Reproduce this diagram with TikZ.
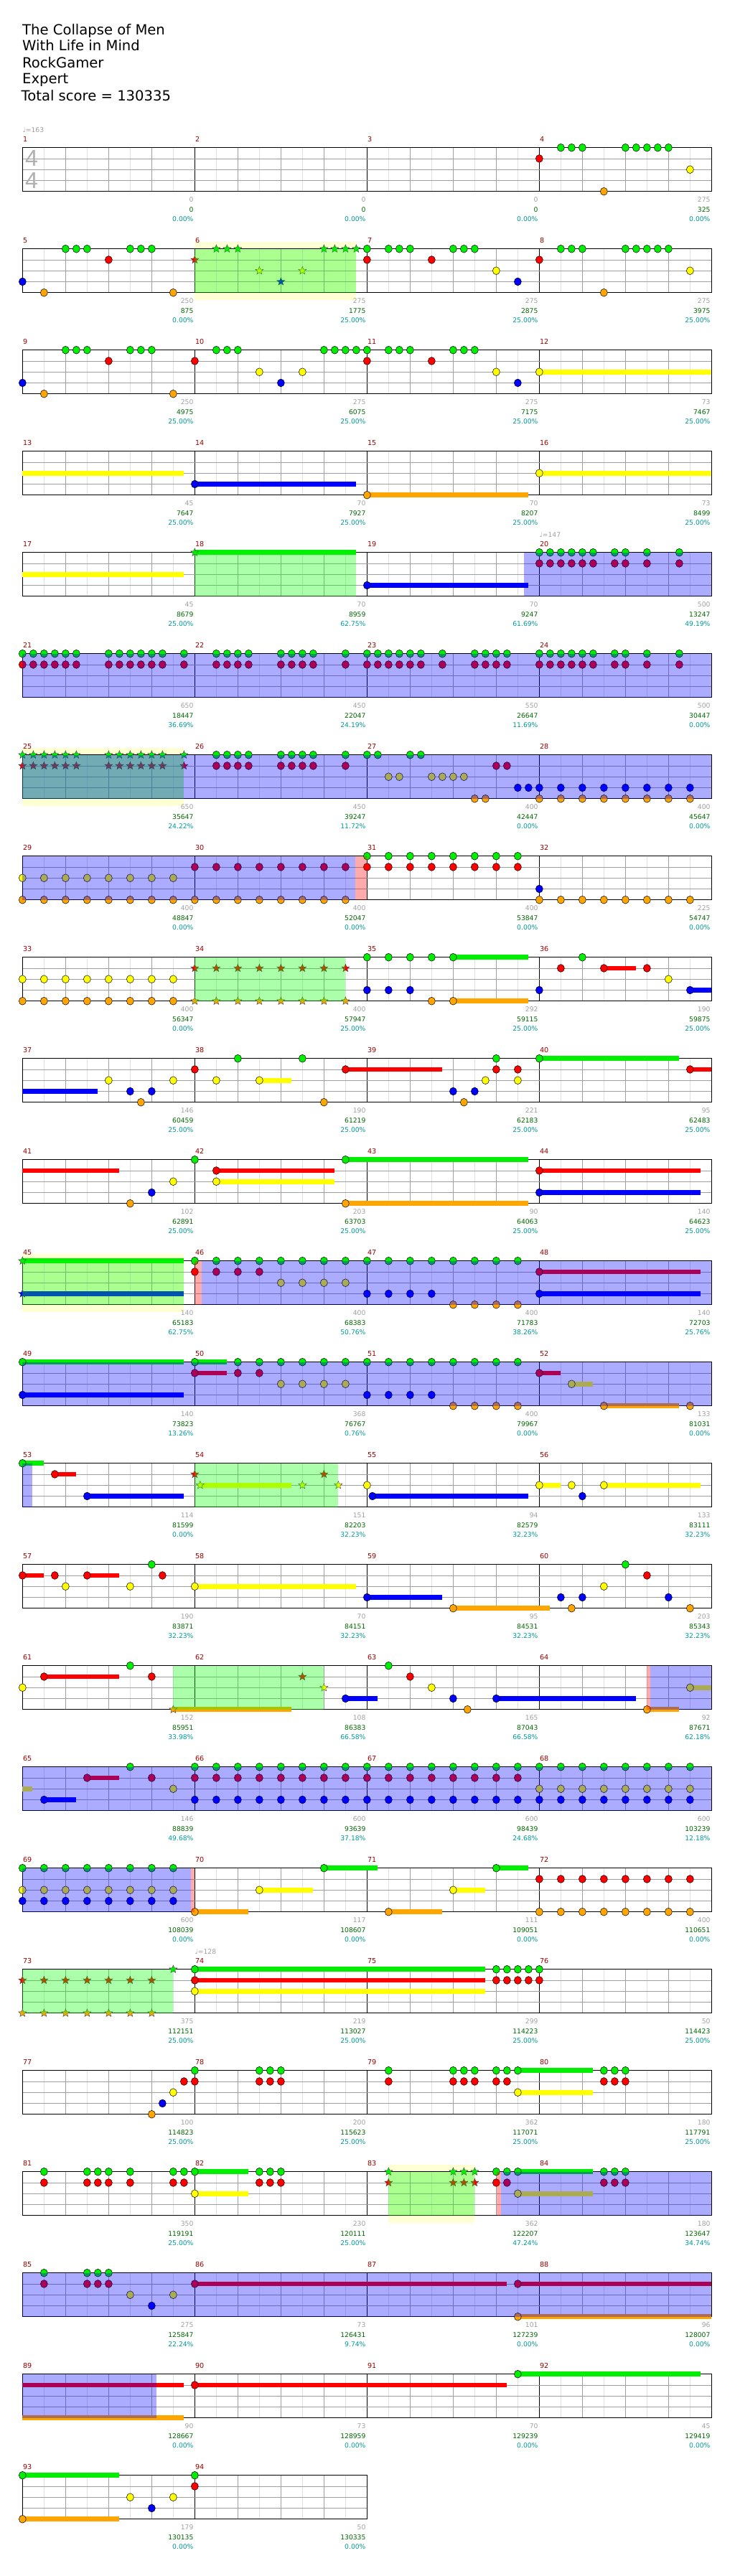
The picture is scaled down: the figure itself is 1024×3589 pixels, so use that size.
\documentclass[tikz,border=0pt]{standalone}
\usepackage{fontspec}
\setmainfont{DejaVu Sans}
\newfontfamily\libfont{Liberation Sans}
\definecolor{cg}{HTML}{00EE00}
\definecolor{cr}{HTML}{FF0000}
\definecolor{cy}{HTML}{FFFF00}
\definecolor{cb}{HTML}{0000FF}
\definecolor{co}{HTML}{FFA500}
\definecolor{phrase}{HTML}{FFFFD4}
\definecolor{mred}{HTML}{990000}
\definecolor{ngray}{HTML}{A0A0A0}
\definecolor{sgreen}{HTML}{006600}
\definecolor{pteal}{HTML}{009999}
\definecolor{lgray}{HTML}{E0E0E0}
\definecolor{mgray}{HTML}{A0A0A0}
\definecolor{tsgray}{HTML}{B0B0B0}
\def\lyg{0}\def\lyr{15.25}\def\lyy{30.5}\def\lyb{45.75}\def\lyo{61}
\newcommand\setm[1]{%
  \pgfmathtruncatemacro\mrow{(#1-1)/4}%
  \pgfmathtruncatemacro\mcol{#1-1-4*\mrow}%
  \pgfmathsetmacro\mx{31.35+240*\mcol}%
  \pgfmathsetmacro\my{205.7+141*\mrow}}
\newcommand\Nt[3]{\setm{#1}\foreach \qa in {#2}{\foreach \qp in {#3}{%
  \pgfmathsetmacro\xx{\mx+\qp*15}\pgfmathsetmacro\yy{\my+\csname ly\qa\endcsname}%
  \filldraw[notest,fill=c\qa] (\xx,\yy) circle[x radius=5pt,y radius=5.4pt];}}}
\newcommand\Sn[3]{\setm{#1}\foreach \qa in {#2}{\foreach \qp in {#3}{%
  \pgfmathsetmacro\xx{\mx+\qp*15}\pgfmathsetmacro\yy{\my+\csname ly\qa\endcsname}%
  \filldraw[starst,fill=c\qa,shift={(\xx,\yy)}] (90:5.8pt)--(126:2.5pt)--(162:5.8pt)--(198:2.5pt)--(234:5.8pt)--(270:2.5pt)--(306:5.8pt)--(342:2.5pt)--(18:5.8pt)--(54:2.5pt)--cycle;}}}
\newcommand\Su[4]{\setm{#1}\pgfmathsetmacro\yy{\my+\csname ly#2\endcsname}%
  \fill[c#2] ({\mx+#3*15},{\yy-3.4}) rectangle ({\mx+#4*15},{\yy+3.4});}
\newcommand\Reg[4]{\setm{#1}\fill[#4] ({\mx+#2*15},\my) rectangle ({\mx+#3*15},{\my+61});}
\newcommand\Ph[3]{\setm{#1}\fill[phrase] ({\mx+#2*15},{\my-10}) rectangle ({\mx+#3*15},{\my+71});}
\tikzset{
  notest/.style={draw=black,line width=0.5pt},
  starst/.style={draw=black!75,line width=0.4pt},
  gov/.style={fill=green,fill opacity=0.33},
  bov/.style={fill=blue,fill opacity=0.33},
  rov/.style={fill=red,fill opacity=0.33},
  eighthl/.style={draw=lgray,line width=0.8pt},
  quarterl/.style={draw=mgray,line width=0.8pt},
  barl/.style={draw=black,line width=0.8pt},
  lanel/.style={draw=mgray,line width=0.9pt},
  outl/.style={draw=black,line width=1.2pt},
  mnum/.style={font=\fontsize{9.6}{11}\selectfont,text=mred,inner sep=0pt,anchor=base west},
  gnum/.style={font=\fontsize{9.2}{11}\selectfont,text=ngray,inner sep=0pt,anchor=base east},
  snum/.style={font=\fontsize{9.2}{11}\selectfont,text=sgreen,inner sep=0pt,anchor=base east},
  pnum/.style={font=\fontsize{9.2}{11}\selectfont,text=pteal,inner sep=0pt,anchor=base east},
  ttl/.style={font=\fontsize{19.6}{23}\selectfont,inner sep=0pt,anchor=base west},
  tempo/.style={font=\fontsize{9.2}{11}\selectfont,text=ngray,inner sep=0pt,anchor=base west},
  tsig/.style={font=\libfont\fontsize{32}{36}\selectfont,text=tsgray,inner sep=0pt}
}
\begin{document}
\begin{tikzpicture}[x=1pt,y=-1pt]
\fill[white] (0,0) rectangle (1024,3589);
\useasboundingbox (0,0) rectangle (1024,3589);
% title
\node[ttl] (t1) at (31,48.7) {The Collapse of Men};
\node[ttl] (t2) at (31,71) {With Life in Mind};
\node[ttl] (t3) at (31,94.3) {RockGamer};
\node[ttl] (t4) at (31,117) {Expert};
\node[ttl] (t5) at (29.5,140.3) {Total score = 130335};
% tempo marks
\node[tempo] (tp1) at (31.35,184.2) {♩=163};
\node[tempo] (tp2) at (751.35,748.2) {♩=147};
\node[tempo] (tp3) at (271.35,2722.2) {♩=128};
% phrase regions
\Ph{6}{0}{15} \Ph{25}{0}{15} \Ph{45}{0}{15} \Ph{83}{2}{10}
% grid
\foreach \r in {0,...,23}{
  \pgfmathsetmacro\yt{205.7+141*\r}
  \ifnum\r=23 \def\nm{2}\else\def\nm{4}\fi
  \pgfmathsetmacro\xe{31.35+240*\nm}
  \pgfmathtruncatemacro\ne{8*\nm-1}
  \foreach \i in {1,3,...,\ne} \draw[eighthl] ({31.35+30*\i},\yt) -- ++(0,61);
  \pgfmathtruncatemacro\nq{4*\nm-1}
  \foreach \i in {1,...,\nq} \draw[quarterl] ({31.35+60*\i},\yt) -- ++(0,61);
  \pgfmathtruncatemacro\nb{\nm-1}
  \foreach \i in {1,...,\nb} \draw[barl] ({31.35+240*\i},\yt) -- ++(0,61);
  \foreach \j in {1,2,3} \draw[lanel] (31.35,{\yt+15.25*\j}) -- (\xe,{\yt+15.25*\j});
  \draw[outl] (31.35,\yt) rectangle (\xe,{\yt+61});
}
\node[tsig] (ts1) at (44,220.5) {4};
\node[tsig] (ts2) at (44,251.5) {4};
% sustains
\Su{12}{y}{0}{16} \Su{13}{y}{0}{15} \Su{14}{b}{0}{15} \Su{15}{o}{0}{15} \Su{16}{y}{0}{16}
\Su{17}{y}{0}{15} \Su{18}{g}{0}{15} \Su{19}{b}{0}{15}
\Su{35}{g}{8}{15} \Su{35}{o}{8}{15} \Su{36}{r}{6}{9} \Su{36}{b}{14}{16}
\Su{37}{b}{0}{7} \Su{38}{y}{6}{9} \Su{38}{r}{14}{23} \Su{40}{g}{0}{13} \Su{40}{r}{14}{16}
\Su{41}{r}{0}{9} \Su{42}{r}{2}{13} \Su{42}{y}{2}{13} \Su{42}{g}{14}{31} \Su{42}{o}{14}{31}
\Su{44}{r}{0}{15} \Su{44}{b}{0}{15} \Su{45}{g}{0}{15} \Su{45}{b}{0}{15}
\Su{48}{r}{0}{15} \Su{48}{b}{0}{15} \Su{49}{g}{0}{15} \Su{49}{b}{0}{15}
\Su{50}{g}{0}{3} \Su{50}{r}{0}{3} \Su{52}{r}{0}{2} \Su{52}{y}{3}{5} \Su{52}{o}{6}{13}
\Su{53}{g}{0}{2} \Su{53}{r}{3}{5} \Su{53}{b}{6}{15} \Su{54}{y}{0.5}{9}
\Su{55}{b}{0.5}{15} \Su{56}{y}{0}{2} \Su{56}{y}{6}{15}
\Su{57}{r}{0}{2} \Su{57}{r}{6}{9} \Su{58}{y}{0}{15} \Su{59}{b}{0}{7} \Su{59}{o}{8}{17}
\Su{61}{r}{2}{9} \Su{61}{o}{14}{25} \Su{62}{b}{14}{17} \Su{63}{b}{12}{25}
\Su{64}{o}{10}{13} \Su{64}{y}{14}{16} \Su{65}{y}{0}{0.9} \Su{65}{b}{2}{5} \Su{65}{r}{6}{9}
\Su{70}{o}{0}{5} \Su{70}{y}{6}{11} \Su{70}{g}{12}{17}
\Su{71}{o}{2}{7} \Su{71}{y}{8}{11} \Su{71}{g}{12}{15}
\Su{74}{g}{0}{27} \Su{74}{r}{0}{27} \Su{74}{y}{0}{27}
\Su{79}{g}{14}{21} \Su{79}{y}{14}{21} \Su{82}{g}{0}{5} \Su{82}{y}{0}{5}
\Su{83}{g}{14}{21} \Su{83}{y}{14}{21}
\Su{86}{r}{0}{29} \Su{87}{r}{14}{32} \Su{87}{o}{14}{32}
\Su{89}{r}{0}{15} \Su{89}{o}{0}{15} \Su{90}{r}{0}{29} \Su{91}{g}{14}{31}
\Su{93}{g}{0}{9} \Su{93}{o}{0}{9}
% notes
\Nt{4}{r}{0} \Nt{4}{g}{2,3,4,8,9,10,11,12} \Nt{4}{o}{6} \Nt{4}{y}{14}
\Nt{5}{b}{0} \Nt{5}{o}{2,14} \Nt{5}{g}{4,5,6,10,11,12} \Nt{5}{r}{8}
\Sn{6}{r}{0} \Sn{6}{g}{2,3,4,12,13,14,15} \Sn{6}{y}{6,10} \Sn{6}{b}{8}
\Nt{7}{g}{0,2,3,4,8,9,10} \Nt{7}{r}{0,6} \Nt{7}{y}{12} \Nt{7}{b}{14}
\Nt{8}{r}{0} \Nt{8}{g}{2,3,4,8,9,10,11,12} \Nt{8}{o}{6} \Nt{8}{y}{14}
\Nt{9}{b}{0} \Nt{9}{o}{2,14} \Nt{9}{g}{4,5,6,10,11,12} \Nt{9}{r}{8}
\Nt{10}{r}{0} \Nt{10}{g}{2,3,4,12,13,14,15} \Nt{10}{y}{6,10} \Nt{10}{b}{8}
\Nt{11}{g}{0,2,3,4,8,9,10} \Nt{11}{r}{0,6} \Nt{11}{y}{12} \Nt{11}{b}{14}
\Nt{12}{y}{0} \Nt{14}{b}{0} \Nt{15}{o}{0} \Nt{16}{y}{0}
\Sn{18}{g}{0} \Nt{19}{b}{0}
\Nt{20}{g,r}{0,1,2,3,4,5,7,8,10,13}
\Nt{21}{g,r}{0,1,2,3,4,5,8,9,10,11,12,13,15}
\Nt{22}{g,r}{2,3,4,5,8,9,10,11,14}
\Nt{23}{g,r}{0,1,2,3,4,5,7,10,11,12,13}
\Nt{24}{g,r}{0,1,2,3,4,5,7,8,10,13}
\Sn{25}{g,r}{0,1,2,3,4,5,8,9,10,11,12,13,15}
\Nt{26}{g,r}{2,3,4,5,8,9,10,11,14}
\Nt{27}{g}{0,1,4,5} \Nt{27}{y}{2,3,6,7,8,9} \Nt{27}{o}{10,11} \Nt{27}{r}{12,13} \Nt{27}{b}{14,15}
\Nt{28}{b,o}{0,2,...,14}
\Nt{29}{y,o}{0,2,...,14}
\Nt{30}{r,o}{0,2,...,14}
\Nt{31}{g,r}{0,2,...,14}
\Nt{32}{b}{0} \Nt{32}{o}{0,2,...,14}
\Nt{33}{y,o}{0,2,...,14}
\Sn{34}{r,o}{0,2,...,14}
\Nt{35}{g}{0,2,4,6,8} \Nt{35}{b}{0,2,4} \Nt{35}{o}{6,8}
\Nt{36}{b}{0,14} \Nt{36}{r}{2,6,10} \Nt{36}{g}{4} \Nt{36}{y}{12}
\Nt{37}{y}{8,14} \Nt{37}{b}{10,12} \Nt{37}{o}{11}
\Nt{38}{r}{0,14} \Nt{38}{y}{2,6} \Nt{38}{g}{4,10} \Nt{38}{o}{12}
\Nt{39}{b}{8,10} \Nt{39}{o}{9} \Nt{39}{y}{11,14} \Nt{39}{g}{12} \Nt{39}{r}{12,14}
\Nt{40}{g}{0} \Nt{40}{r}{14}
\Nt{41}{o}{10} \Nt{41}{b}{12} \Nt{41}{y}{14}
\Nt{42}{g}{0,14} \Nt{42}{r,y}{2} \Nt{42}{o}{14}
\Nt{44}{r,b}{0}
\Sn{45}{g,b}{0}
\Nt{46}{g}{0,2,...,14} \Nt{46}{r}{0,2,4,6} \Nt{46}{y}{8,10,12,14}
\Nt{47}{g}{0,2,...,14} \Nt{47}{b}{0,2,4,6} \Nt{47}{o}{8,10,12,14}
\Nt{48}{r,b}{0} \Nt{49}{g,b}{0}
\Nt{50}{g}{0,4,6,8,10,12,14} \Nt{50}{r}{0,4,6} \Nt{50}{y}{8,10,12,14}
\Nt{51}{g}{0,2,...,14} \Nt{51}{b}{0,2,4,6} \Nt{51}{o}{8,10,12,14}
\Nt{52}{r}{0} \Nt{52}{y}{3} \Nt{52}{o}{6,14}
\Nt{53}{g}{0} \Nt{53}{r}{3} \Nt{53}{b}{6}
\Sn{54}{r}{0,12} \Sn{54}{y}{0.5,10,13.33}
\Nt{55}{y}{0} \Nt{55}{b}{0.5}
\Nt{56}{y}{0,3,6} \Nt{56}{b}{4}
\Nt{57}{r}{0,3,6,13} \Nt{57}{y}{4,10} \Nt{57}{g}{12}
\Nt{58}{y}{0} \Nt{59}{b}{0} \Nt{59}{o}{8}
\Nt{60}{b}{2,4,12} \Nt{60}{o}{3,14} \Nt{60}{y}{6} \Nt{60}{g}{8} \Nt{60}{r}{10}
\Nt{61}{y}{0} \Nt{61}{r}{2,12} \Nt{61}{g}{10} \Sn{61}{o}{14}
\Sn{62}{r}{10} \Sn{62}{y}{12} \Nt{62}{b}{14}
\Nt{63}{g}{2} \Nt{63}{r}{4} \Nt{63}{y}{6} \Nt{63}{b}{8,12} \Nt{63}{o}{9.33}
\Nt{64}{o}{10} \Nt{64}{y}{14}
\Nt{65}{b}{2} \Nt{65}{r}{6,12} \Nt{65}{g}{10} \Nt{65}{y}{14}
\Nt{66}{g,r,b}{0,2,...,14}
\Nt{67}{g,r,b}{0,2,...,14}
\Nt{68}{g,y,b}{0,2,...,14}
\Nt{69}{g,y,b}{0,2,...,14}
\Nt{70}{o}{0} \Nt{70}{y}{6} \Nt{70}{g}{12}
\Nt{71}{o}{2} \Nt{71}{y}{8} \Nt{71}{g}{12}
\Nt{72}{r,o}{0,2,...,14}
\Sn{73}{r,o}{0,2,4,6,8,10,12} \Sn{73}{g}{14}
\Nt{74}{g,r,y}{0}
\Nt{75}{g,r}{12,13,14,15} \Nt{76}{g,r}{0}
\Nt{77}{o}{12} \Nt{77}{b}{13} \Nt{77}{y}{14} \Nt{77}{r}{15}
\Nt{78}{g,r}{0,6,7,8}
\Nt{79}{g,r}{2,8,9,10,12,13} \Nt{79}{g,y}{14}
\Nt{80}{g,r}{6,7,8}
\Nt{81}{g,r}{2,6,7,8,10,14,15}
\Nt{82}{g,y}{0} \Nt{82}{g,r}{6,7,8}
\Sn{83}{g,r}{2,8,9,10} \Nt{83}{g,r}{12,13} \Nt{83}{g,y}{14}
\Nt{84}{g,r}{6,7,8}
\Nt{85}{g,r}{2,6,7,8} \Nt{85}{y}{10,14} \Nt{85}{b}{12}
\Nt{86}{r}{0} \Nt{87}{r,o}{14}
\Nt{90}{r}{0} \Nt{91}{g}{14}
\Nt{93}{g,o}{0} \Nt{93}{y}{10,14} \Nt{93}{b}{12}
\Nt{94}{g,r}{0}
% overlays
\Reg{6}{0}{15}{gov} \Reg{18}{0}{15}{gov} \Reg{25}{0}{15}{gov} \Reg{34}{0}{14}{gov}
\Reg{45}{0}{15}{gov} \Reg{54}{0}{13.33}{gov} \Reg{61}{14}{28}{gov} \Reg{73}{0}{14}{gov}
\Reg{83}{2}{10}{gov}
\Reg{19}{14.6}{32}{bov} \Reg{21}{0}{64}{bov} \Reg{25}{0}{64}{bov}
\Reg{29}{0}{30.9}{bov} \Reg{30}{14.9}{16}{rov}
\Reg{46}{0}{0.63}{rov} \Reg{46}{0.63}{48}{bov}
\Reg{49}{0}{64}{bov} \Reg{53}{0}{0.9}{bov}
\Reg{64}{10}{10.3}{rov} \Reg{64}{10.3}{16}{bov}
\Reg{65}{0}{64}{bov} \Reg{69}{0}{15.63}{bov} \Reg{69}{15.63}{16}{rov}
\Reg{83}{12.02}{12.45}{rov} \Reg{83}{12.45}{32}{bov}
\Reg{85}{0}{64}{bov} \Reg{89}{0}{12.45}{bov}
% measure numbers
\foreach \m in {1,...,94}{\setm{\m}\node[mnum] (mn\m) at ({\mx+0.5},{\my-7.8}) {\m};}
% scores
\foreach \m/\ga/\gb/\gc in {1/0/0/0.00, 2/0/0/0.00, 3/0/0/0.00, 4/275/325/0.00,
5/250/875/0.00, 6/275/1775/25.00, 7/275/2875/25.00, 8/275/3975/25.00,
9/250/4975/25.00, 10/275/6075/25.00, 11/275/7175/25.00, 12/73/7467/25.00,
13/45/7647/25.00, 14/70/7927/25.00, 15/70/8207/25.00, 16/73/8499/25.00,
17/45/8679/25.00, 18/70/8959/62.75, 19/70/9247/61.69, 20/500/13247/49.19,
21/650/18447/36.69, 22/450/22047/24.19, 23/550/26647/11.69, 24/500/30447/0.00,
25/650/35647/24.22, 26/450/39247/11.72, 27/400/42447/0.00, 28/400/45647/0.00,
29/400/48847/0.00, 30/400/52047/0.00, 31/400/53847/0.00, 32/225/54747/0.00,
33/400/56347/0.00, 34/400/57947/25.00, 35/292/59115/25.00, 36/190/59875/25.00,
37/146/60459/25.00, 38/190/61219/25.00, 39/221/62183/25.00, 40/95/62483/25.00,
41/102/62891/25.00, 42/203/63703/25.00, 43/90/64063/25.00, 44/140/64623/25.00,
45/140/65183/62.75, 46/400/68383/50.76, 47/400/71783/38.26, 48/140/72703/25.76,
49/140/73823/13.26, 50/368/76767/0.76, 51/400/79967/0.00, 52/133/81031/0.00,
53/114/81599/0.00, 54/151/82203/32.23, 55/94/82579/32.23, 56/133/83111/32.23,
57/190/83871/32.23, 58/70/84151/32.23, 59/95/84531/32.23, 60/203/85343/32.23,
61/152/85951/33.98, 62/108/86383/66.58, 63/165/87043/66.58, 64/92/87671/62.18,
65/146/88839/49.68, 66/600/93639/37.18, 67/600/98439/24.68, 68/600/103239/12.18,
69/600/108039/0.00, 70/117/108607/0.00, 71/111/109051/0.00, 72/400/110651/0.00,
73/375/112151/25.00, 74/219/113027/25.00, 75/299/114223/25.00, 76/50/114423/25.00,
77/100/114823/25.00, 78/200/115623/25.00, 79/362/117071/25.00, 80/180/117791/25.00,
81/350/119191/25.00, 82/230/120111/25.00, 83/362/122207/47.24, 84/180/123647/34.74,
85/275/125847/22.24, 86/73/126431/9.74, 87/101/127239/0.00, 88/96/128007/0.00,
89/90/128667/0.00, 90/73/128959/0.00, 91/70/129239/0.00, 92/45/129419/0.00,
93/179/130135/0.00, 94/50/130335/0.00}{%
  \setm{\m}\pgfmathsetmacro\xe{\mx+238.3}%
  \node[gnum] (ga\m) at (\xe,{\my+76.2}) {\ga};
  \node[snum] (gb\m) at (\xe,{\my+89.6}) {\gb};
  \node[pnum] (gc\m) at (\xe,{\my+102.6}) {\gc\%};
}
\end{tikzpicture}
\end{document}
